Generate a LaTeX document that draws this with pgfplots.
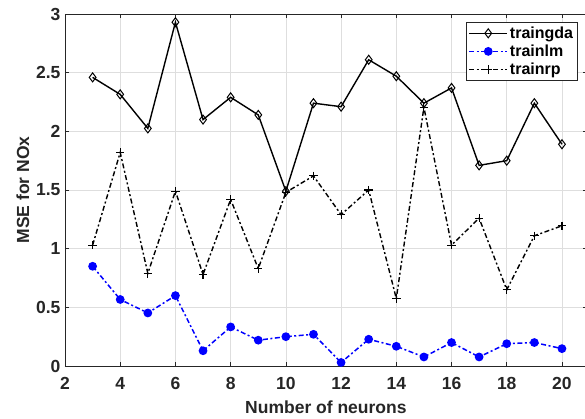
\documentclass[border=0pt]{standalone}
\usepackage{pgfplots}
\pgfplotsset{compat=1.18}
\usepackage{fontspec}
\setmainfont{Liberation Sans}
\definecolor{axgray}{RGB}{38,38,38}
\definecolor{gridgray}{RGB}{222,222,222}
\begin{document}
\begin{tikzpicture}
\begin{axis}[
  scale only axis,
  width=521.8pt, height=352pt,
  xmin=2, xmax=20.9, ymin=0, ymax=3,
  xtick={2,4,...,20}, ytick={0,0.5,...,3},
  yticklabels={0,0.5,1,1.5,2,2.5,3},
  /pgf/number format/assume math mode=true,
  tick label style={font=\fontsize{17.5}{20}\selectfont\bfseries, text=axgray},
  label style={font=\fontsize{17.5}{20}\selectfont\bfseries, text=axgray},
  xticklabel style={yshift=-8pt},
  yticklabel style={xshift=-1pt},
  xlabel={Number of neurons},
  ylabel={MSE for NOx},
  xlabel style={yshift=-4.5pt},
  ylabel style={yshift=0pt},
  grid=major,
  major grid style={gridgray, line width=0.5pt},
  axis line style={axgray, line width=0.6pt},
  tick style={axgray, line width=0.5pt},
  tick align=inside,
  major tick length=4pt,
  legend style={at={(0.982,0.976)}, anchor=north east, draw=axgray, line width=0.6pt,
    font=\fontsize{16}{18}\selectfont\bfseries, inner sep=2pt, row sep=1pt,
    cells={anchor=west}, fill=white},
  legend cell align=left,
  legend image code/.code={\draw[mark repeat=2,mark phase=2] plot coordinates {(0pt,0pt)(19pt,0pt)(38pt,0pt)};},
]
\addplot[black, line width=1.4pt, mark=diamond, mark size=4.5pt, mark options={solid, fill=white, line width=1pt}]
coordinates {(3,2.46)(4,2.315)(5,2.025)(6,2.93)(7,2.10)(8,2.29)(9,2.14)(10,1.49)(11,2.24)(12,2.21)(13,2.61)(14,2.47)(15,2.24)(16,2.37)(17,1.71)(18,1.75)(19,2.24)(20,1.89)};
\addlegendentry{traingda}
\addplot[blue, line width=1.5pt, dash pattern=on 5pt off 2.5pt on 2pt off 2.5pt, mark=*, mark size=3.6pt, mark options={solid}]
coordinates {(3,0.85)(4,0.567)(5,0.452)(6,0.60)(7,0.13)(8,0.333)(9,0.22)(10,0.25)(11,0.27)(12,0.03)(13,0.228)(14,0.168)(15,0.077)(16,0.20)(17,0.077)(18,0.19)(19,0.20)(20,0.148)};
\addlegendentry{trainlm}
\addplot[black, line width=1.4pt, dash pattern=on 5pt off 2.5pt on 2pt off 2.5pt, mark=+, mark size=4.2pt, mark options={solid, line width=1.1pt}]
coordinates {(3,1.03)(4,1.82)(5,0.79)(6,1.49)(7,0.78)(8,1.42)(9,0.83)(10,1.48)(11,1.62)(12,1.29)(13,1.50)(14,0.575)(15,2.205)(16,1.03)(17,1.26)(18,0.65)(19,1.11)(20,1.195)};
\addlegendentry{trainrp}
\end{axis}
\pgfresetboundingbox
\path (current axis.south west) ++(-65pt,-52pt) rectangle ++(585pt,418pt);
\end{tikzpicture}
\end{document}
